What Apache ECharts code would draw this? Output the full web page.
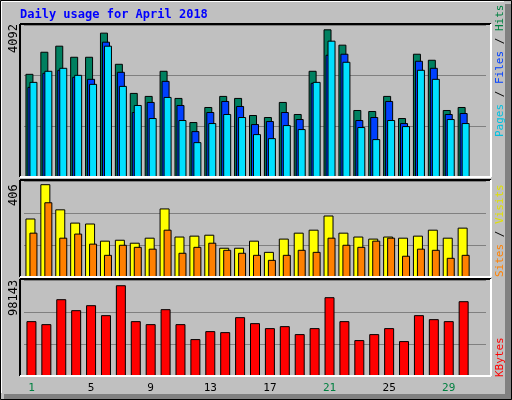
<!DOCTYPE html>
<html><head><meta charset="utf-8">
<script src="https://cdn.jsdelivr.net/npm/echarts@6/dist/echarts.min.js"></script>
<style>html,body{margin:0;padding:0;background:#c0c0c0}#c{width:512px;height:400px}</style>
</head><body><div id="c"></div>
<script>
const days = Array.from({length:31},(_,i)=>String(i+1));
const weekendDays = [1,7,8,14,15,21,22,28,29];
const hits  = [2859,3471,3639,3332,3332,4000,3137,2330,2247,2943,2191,1523,1940,2247,2191,1718,1662,2080,1746,2943,4092,3667,1857,1829,2247,1634,3416,3249,1857,1940,null];
const files = [2497,2887,2971,2776,2720,3750,2915,1801,2080,2664,1996,1272,1801,2107,1968,1467,1551,1801,1606,2609,3388,3416,1579,1662,2107,1495,3221,3026,1746,1773,null];
const pages = [2636,2943,3026,2831,2581,3639,2525,1996,1634,2219,1579,966,1495,1746,1662,1189,1077,1439,1328,2636,3778,3193,1384,1050,1579,1411,2971,2720,1606,1495,null];
const sites = [256,406,296,238,234,159,163,150,172,300,177,181,185,128,128,159,110,168,194,207,269,194,177,168,177,172,181,207,172,216,null];
const visits= [194,327,172,190,146,97,141,132,124,207,106,132,150,119,106,97,75,97,119,110,172,141,132,159,172,93,124,119,84,97,null];
const kbytes= [59318,56082,83045,71181,76574,65789,98143,59318,56082,72260,56082,39905,48533,47454,63632,57161,51768,53925,45297,51768,85202,59318,38826,45297,51768,37748,65789,61475,59318,80888,null];
const maxLabels = ['4092','406','98143'];

const F = 'DejaVu Sans Mono';
const grids = [
  {left:24,width:462,top:25,height:152},
  {left:24,width:462,top:181,height:96},
  {left:24,width:462,top:280,height:96}
];
const ymax = [4212,420,103800];
const xAxes = grids.map((g,i)=>({gridIndex:i,type:'category',data:days,
  axisLine:{show:false},axisTick:{show:false},
  axisLabel:{show:i===2,fontFamily:F,fontSize:11,margin:7,
    formatter:v=>weekendDays.includes(+v)?'{w|'+v+'}':'{n|'+v+'}',
    rich:{w:{color:'#008040',fontFamily:F,fontSize:11},n:{color:'#000',fontFamily:F,fontSize:11}}}}));
const yAxes = grids.map((g,i)=>({gridIndex:i,type:'value',min:0,max:ymax[i],interval:ymax[i]/3,
  axisLine:{show:false},axisTick:{show:false},axisLabel:{show:false},
  splitLine:{show:true,lineStyle:{color:'#808080',width:1}}}));
const bs = (name,data,color,xi,w,gap)=>({name,type:'bar',data,xAxisIndex:xi,yAxisIndex:xi,
  barWidth:w,barGap:gap,itemStyle:{color,borderColor:'#000',borderWidth:1},animation:false});

const frames = [];
grids.forEach(g=>{
  const x0=20,x1=491,y0=g.top-1,y1=g.top+g.height;
  frames.push({type:'line',shape:{x1:x0,y1:y0,x2:x1,y2:y0},style:{stroke:'#000',lineWidth:2},z:10});
  frames.push({type:'line',shape:{x1:x0,y1:y0,x2:x0,y2:y1},style:{stroke:'#000',lineWidth:2},z:10});
  frames.push({type:'line',shape:{x1:x1,y1:y0,x2:x1,y2:y1},style:{stroke:'#fff',lineWidth:2},z:10});
  frames.push({type:'line',shape:{x1:x0,y1:y1,x2:x1,y2:y1},style:{stroke:'#fff',lineWidth:2},z:10});
});
const rot = (x,y,text,rich)=>({type:'text',x,y,rotation:Math.PI/2,
  style:{text,rich,fontFamily:F,fontSize:11,align:'left',verticalAlign:'middle'},z:20});

const graphics = [
  {type:'rect',shape:{x:505,y:4,width:7,height:396},style:{fill:'#808080'},z:1},
  {type:'rect',shape:{x:4,y:394,width:508,height:6},style:{fill:'#808080'},z:1},
  {type:'rect',shape:{x:0.5,y:0.5,width:511,height:399},style:{fill:'none',stroke:'#000',lineWidth:1},z:2},
  {type:'line',shape:{x1:1.5,y1:1.5,x2:504,y2:1.5},style:{stroke:'#fff',lineWidth:1},z:2},
  {type:'line',shape:{x1:1.5,y1:1.5,x2:1.5,y2:393},style:{stroke:'#fff',lineWidth:1},z:2},
  {type:'text',x:20,y:15,style:{text:'Daily usage for April 2018',fill:'#0000ff',fontFamily:F,fontSize:12,fontWeight:'bold',verticalAlign:'middle'},z:20},
  rot(14,53,'{a|'+maxLabels[0]+'}',{a:{fill:'#000',fontFamily:F,fontSize:12}}),
  rot(14,206,'{a|'+maxLabels[1]+'}',{a:{fill:'#000',fontFamily:F,fontSize:12}}),
  rot(14,316,'{a|'+maxLabels[2]+'}',{a:{fill:'#000',fontFamily:F,fontSize:12}}),
  rot(500,137,'{p|Pages}{s| / }{f|Files}{s| / }{h|Hits}',{p:{fill:'#00c0e0',fontFamily:F,fontSize:11},f:{fill:'#0040ff',fontFamily:F,fontSize:11},h:{fill:'#008040',fontFamily:F,fontSize:11},s:{fill:'#000',fontFamily:F,fontSize:11}}),
  rot(500,277,'{a|Sites}{s| / }{b|Visits}',{a:{fill:'#ff8000',fontFamily:F,fontSize:11},b:{fill:'#e0e000',fontFamily:F,fontSize:11},s:{fill:'#000',fontFamily:F,fontSize:11}}),
  rot(500,377,'{a|KBytes}',{a:{fill:'#ff0000',fontFamily:F,fontSize:11}})
].concat(frames);

const chart = echarts.init(document.getElementById('c'));
chart.setOption({
  backgroundColor:'#c0c0c0',animation:false,
  grid:grids,xAxis:xAxes,yAxis:yAxes,
  series:[
    bs('Hits',hits,'#008060',0,8,'-75%'),
    bs('Files',files,'#0040ff',0,8,'-75%'),
    bs('Pages',pages,'#00e0ff',0,8,'-75%'),
    bs('Sites',sites,'#ffff00',1,10,'-60%'),
    bs('Visits',visits,'#ff8000',1,8,'-60%'),
    bs('KBytes',kbytes,'#ff0000',2,10,'0%')
  ],
  graphic:graphics
});
</script></body></html>
